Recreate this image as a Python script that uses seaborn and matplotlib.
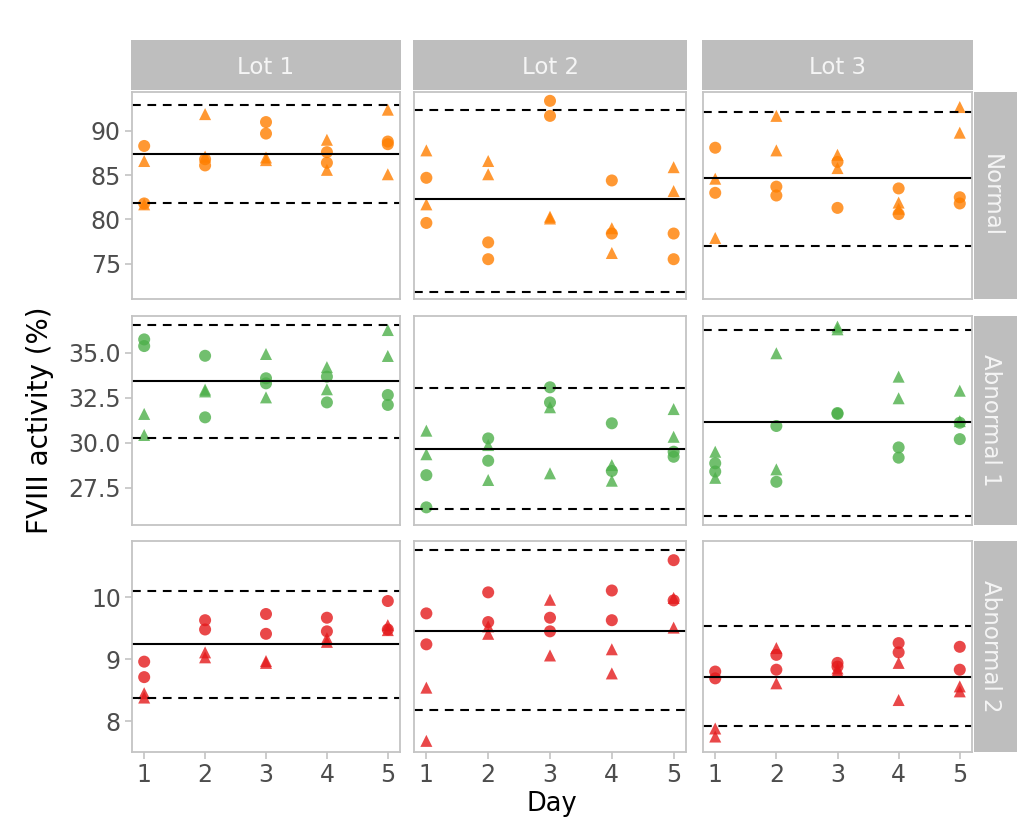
import numpy as np
import pandas as pd
import matplotlib
matplotlib.use("Agg")
import matplotlib.pyplot as plt
from matplotlib.patches import Rectangle
import seaborn as sns

levels = ["Normal", "Abnormal 1", "Abnormal 2"]
lots = ["Lot 1", "Lot 2", "Lot 3"]
days = [1, 2, 3, 4, 5]

# two circle points and two triangle points per day
normal_lot1_circ = [[88.3, 81.8], [86.8, 86.1], [91.0, 89.7], [87.6, 86.4], [88.8, 88.5]]
normal_lot1_tri = [[86.6, 81.7], [91.9, 87.1], [87.0, 86.7], [89.0, 85.6], [92.4, 85.1]]
normal_lot2_circ = [[84.7, 79.6], [77.4, 75.5], [93.4, 91.7], [84.4, 78.4], [78.4, 75.5]]
normal_lot2_tri = [[87.8, 81.7], [86.6, 85.1], [80.3, 80.1], [79.0, 76.2], [85.9, 83.2]]
normal_lot3_circ = [[88.1, 83.0], [83.7, 82.7], [86.5, 81.3], [83.5, 80.6], [82.5, 81.8]]
normal_lot3_tri = [[84.6, 77.9], [91.7, 87.8], [87.3, 85.8], [81.9, 81.2], [92.7, 89.8]]

ab1_lot1_circ = [[35.74, 35.37], [34.83, 31.41], [33.58, 33.30], [33.67, 32.24], [32.65, 32.10]]
ab1_lot1_tri = [[31.60, 30.43], [32.95, 32.85], [34.93, 32.52], [34.20, 32.97], [36.26, 34.82]]
ab1_lot2_circ = [[28.20, 26.41], [30.24, 29.00], [33.08, 32.24], [31.08, 28.43], [29.50, 29.22]]
ab1_lot2_tri = [[30.67, 29.36], [29.87, 27.93], [31.97, 28.30], [28.76, 27.89], [31.87, 30.33]]
ab1_lot3_circ = [[28.86, 28.40], [30.93, 27.83], [31.65, 31.60], [29.74, 29.17], [31.11, 30.20]]
ab1_lot3_tri = [[29.50, 28.05], [34.97, 28.52], [36.45, 36.30], [33.67, 32.47], [32.89, 31.20]]

ab2_lot1_circ = [[8.96, 8.71], [9.63, 9.48], [9.73, 9.41], [9.67, 9.45], [9.94, 9.48]]
ab2_lot1_tri = [[8.45, 8.38], [9.11, 9.03], [8.97, 8.94], [9.34, 9.28], [9.55, 9.47]]
ab2_lot2_circ = [[9.74, 9.24], [10.08, 9.60], [9.67, 9.45], [10.11, 9.63], [10.60, 9.95]]
ab2_lot2_tri = [[8.54, 7.68], [9.53, 9.41], [9.96, 9.06], [9.16, 8.77], [9.99, 9.51]]
ab2_lot3_circ = [[8.80, 8.69], [9.07, 8.83], [8.94, 8.88], [9.26, 9.11], [9.20, 8.83]]
ab2_lot3_tri = [[7.88, 7.75], [9.18, 8.61], [8.85, 8.81], [8.94, 8.34], [8.56, 8.48]]

# mean line and lower / upper dashed limits per lot
normal_center = [87.36, 82.27, 84.68]
normal_lower = [81.80, 71.83, 76.96]
normal_upper = [92.90, 92.42, 92.15]
ab1_center = [33.43, 29.63, 31.17]
ab1_lower = [30.24, 26.30, 25.93]
ab1_upper = [36.54, 33.06, 36.26]
ab2_center = [9.25, 9.45, 8.72]
ab2_lower = [8.37, 8.18, 7.92]
ab2_upper = [10.11, 10.77, 9.53]

normal_ticks = [75, 80, 85, 90]
ab1_ticks = [27.5, 30.0, 32.5, 35.0]
ab2_ticks = [8, 9, 10]

data = {
    "Normal": [(normal_lot1_circ, normal_lot1_tri), (normal_lot2_circ, normal_lot2_tri), (normal_lot3_circ, normal_lot3_tri)],
    "Abnormal 1": [(ab1_lot1_circ, ab1_lot1_tri), (ab1_lot2_circ, ab1_lot2_tri), (ab1_lot3_circ, ab1_lot3_tri)],
    "Abnormal 2": [(ab2_lot1_circ, ab2_lot1_tri), (ab2_lot2_circ, ab2_lot2_tri), (ab2_lot3_circ, ab2_lot3_tri)],
}
lines = {
    "Normal": (normal_center, normal_lower, normal_upper),
    "Abnormal 1": (ab1_center, ab1_lower, ab1_upper),
    "Abnormal 2": (ab2_center, ab2_lower, ab2_upper),
}
ticks = {"Normal": normal_ticks, "Abnormal 1": ab1_ticks, "Abnormal 2": ab2_ticks}
ylims = {"Normal": (71.0, 94.4), "Abnormal 1": (25.43, 37.04), "Abnormal 2": (7.50, 10.91)}
tickfmt = {"Normal": "{:.0f}", "Abnormal 1": "{:.1f}", "Abnormal 2": "{:.0f}"}

rows = []
for lev in levels:
    for lot, (circ, tri) in zip(lots, data[lev]):
        for d, cv, tv in zip(days, circ, tri):
            for v in cv:
                rows.append((lev, lot, d, "circle", v))
            for v in tv:
                rows.append((lev, lot, d, "triangle", v))
df = pd.DataFrame(rows, columns=["Level", "Lot", "Day", "Rep", "FVIII"])

sns.set_theme(style="white")
plt.rcParams["font.family"] = ["DejaVu Sans"]

palette = {"Normal": "#FF7F00", "Abnormal 1": "#4DAF4A", "Abnormal 2": "#E41A1C"}

g = sns.FacetGrid(df, row="Level", col="Lot", row_order=levels, col_order=lots,
                  sharey="row", sharex=True, despine=False, height=3, aspect=1.3)
g.map_dataframe(sns.scatterplot, x="Day", y="FVIII", hue="Level", palette=palette,
                style="Rep", markers={"circle": "o", "triangle": "^"},
                s=75, alpha=0.8, edgecolor="none", legend=False)

fig = g.figure
fig.set_size_inches(10.17, 8.19)
W, H = 1017, 819
col_left = [132, 414, 703]
col_width = [268, 272, 269]
row_top = [92, 316, 541]
row_height = [207, 209, 211]

border = "#C4C4C4"
strip_col = "#BEBEBE"
for i, lev in enumerate(levels):
    center, lower, upper = lines[lev]
    for j, lot in enumerate(lots):
        ax = g.axes[i, j]
        ax.set_position([col_left[j] / W, 1 - (row_top[i] + row_height[i]) / H,
                         col_width[j] / W, row_height[i] / H])
        ax.set_title("")
        ax.set_xlabel("")
        ax.set_ylabel("")
        ax.axhline(center[j], color="black", lw=1.5, zorder=1)
        ax.axhline(lower[j], color="black", lw=1.5, ls=(0, (4.2, 3.2)), zorder=1)
        ax.axhline(upper[j], color="black", lw=1.5, ls=(0, (4.2, 3.2)), zorder=1)
        ax.set_xlim(0.8, 5.2)
        ax.set_ylim(*ylims[lev])
        ax.set_xticks(days)
        ax.set_yticks(ticks[lev])
        ax.set_xticklabels([str(d) for d in days])
        ax.set_yticklabels([tickfmt[lev].format(t) for t in ticks[lev]])
        for sp in ax.spines.values():
            sp.set_color(border)
            sp.set_linewidth(1.3)
        ax.tick_params(direction="out", length=5, width=1.2, color=border,
                       labelcolor="#4D4D4D", labelsize=17, pad=3,
                       left=(j == 0), labelleft=(j == 0),
                       bottom=(i == 2), labelbottom=(i == 2))
        ax.grid(False)

# top strips
for j, lot in enumerate(lots):
    x0 = (col_left[j] - 1) / W
    fig.add_artist(Rectangle((x0, 1 - 90 / H), (col_width[j] + 2) / W, 50 / H,
                             transform=fig.transFigure, facecolor=strip_col, edgecolor="none"))
    fig.text((col_left[j] + col_width[j] / 2) / W, 1 - 67 / H, lot, color="#F5F5F5",
             fontsize=16.5, ha="center", va="center")

# right strips
for i, lev in enumerate(levels):
    fig.add_artist(Rectangle((974 / W, 1 - (row_top[i] + row_height[i]) / H), 50 / W, row_height[i] / H,
                             transform=fig.transFigure, facecolor=strip_col, edgecolor="none"))
    fig.text(991 / W, 1 - (row_top[i] + row_height[i] / 2) / H, lev, color="#F5F5F5",
             fontsize=16.5, ha="center", va="center", rotation=-90)

fig.text(40 / W, 1 - 420 / H, "FVIII activity (%)", rotation=90, fontsize=20,
         ha="center", va="center", color="black")
fig.text(552 / W, 2 / H, "Day", fontsize=18.5, ha="center", va="bottom", color="black")

fig.savefig("out.png", dpi=100)
